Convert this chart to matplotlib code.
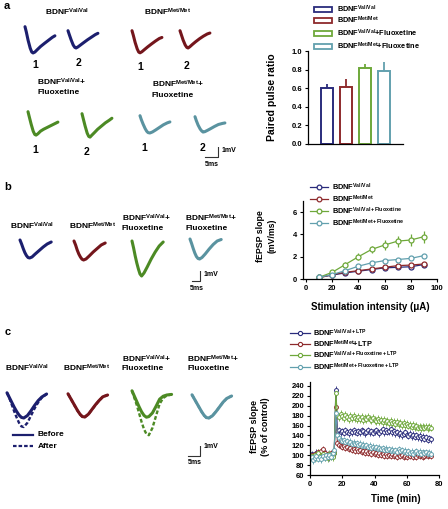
import matplotlib
matplotlib.use('Agg')
import matplotlib.pyplot as plt
from matplotlib.patches import Rectangle
import numpy as np

plt.rcParams['font.family'] = ['Liberation Sans', 'DejaVu Sans']
plt.rcParams['font.weight'] = 'bold'
plt.rcParams['mathtext.fontset'] = 'custom'
plt.rcParams['mathtext.rm'] = 'Liberation Sans:bold'
plt.rcParams['mathtext.bf'] = 'Liberation Sans:bold'
plt.rcParams['mathtext.it'] = 'Liberation Sans:bold'
plt.rcParams['mathtext.default'] = 'rm'

# ---------------- DATA ----------------
groups = ['BDNF$^{Val/Val}$', 'BDNF$^{Met/Met}$',
          'BDNF$^{Val/Val}$+Fluoxetine', 'BDNF$^{Met/Met}$+Fluoxetine']

# panel a: paired pulse ratio
ppr_mean = [0.60, 0.615, 0.815, 0.79]
ppr_sem = [0.05, 0.085, 0.045, 0.09]

# panel b: input-output
stim_ua = [10, 20, 30, 40, 50, 60, 70, 80, 90]
io_valval = [0.15, 0.35, 0.55, 0.70, 0.85, 1.00, 1.05, 1.10, 1.30]
io_metmet = [0.10, 0.40, 0.60, 0.75, 0.90, 1.05, 1.20, 1.25, 1.35]
io_valval_flx = [0.15, 0.60, 1.30, 2.00, 2.65, 3.05, 3.40, 3.50, 3.80]
io_metmet_flx = [0.15, 0.40, 0.75, 1.15, 1.45, 1.65, 1.75, 1.85, 2.10]
io_sem_valval = [0.05, 0.05, 0.08, 0.08, 0.10, 0.10, 0.10, 0.12, 0.12]
io_sem_metmet = [0.05, 0.05, 0.08, 0.08, 0.10, 0.10, 0.12, 0.12, 0.12]
io_sem_valval_flx = [0.08, 0.15, 0.20, 0.30, 0.35, 0.45, 0.50, 0.55, 0.55]
io_sem_metmet_flx = [0.05, 0.08, 0.10, 0.12, 0.12, 0.12, 0.12, 0.15, 0.15]
io_labels = ['BDNF$^{Val/Val}$', 'BDNF$^{Met/Met}$',
             'BDNF$^{Val/Val+Fluoxetine}$', 'BDNF$^{Met/Met+Fluoxetine}$']

# panel c: LTP time course (min 1..75)
ltp_time = list(range(1, 76))
ltp_valval = [102, 96, 100, 105, 98, 101, 97, 104, 99, 103,
              100, 96, 102, 99, 104, 232, 148, 151, 146, 149,
              145, 150, 147, 144, 149, 146, 151, 147, 145, 149,
              146, 150, 148, 144, 147, 150, 146, 149, 145, 148,
              151, 147, 144, 149, 152, 146, 150, 147, 148, 152,
              146, 149, 144, 147, 142, 145, 140, 143, 146, 141,
              139, 143, 138, 141, 137, 140, 136, 139, 134, 137,
              133, 136, 131, 134, 132]
ltp_metmet = [100, 95, 103, 98, 106, 101, 108, 112, 104, 99,
              102, 97, 104, 100, 106, 198, 124, 120, 118, 116,
              119, 114, 117, 112, 115, 111, 113, 109, 112, 108,
              110, 106, 109, 105, 108, 104, 107, 103, 106, 102,
              105, 101, 104, 100, 103, 99, 102, 98, 101, 99,
              102, 98, 100, 97, 101, 98, 100, 96, 99, 97,
              100, 98, 101, 97, 99, 96, 100, 98, 101, 97,
              99, 101, 98, 100, 99]
ltp_valval_flx = [98, 92, 101, 96, 104, 99, 95, 103, 97, 100,
                  94, 102, 98, 96, 105, 225, 182, 178, 184, 179,
                  176, 181, 177, 174, 179, 175, 180, 176, 173, 178,
                  174, 177, 172, 176, 173, 178, 174, 171, 175, 172,
                  170, 174, 169, 172, 168, 171, 167, 170, 166, 169,
                  165, 168, 164, 167, 163, 166, 162, 165, 161, 163,
                  160, 162, 158, 161, 157, 159, 156, 158, 155, 157,
                  156, 158, 155, 157, 156]
ltp_metmet_flx = [96, 90, 94, 99, 93, 97, 92, 98, 95, 100,
                  96, 101, 97, 105, 110, 185, 140, 134, 131, 128,
                  130, 126, 128, 124, 127, 123, 125, 122, 124, 120,
                  123, 119, 121, 118, 120, 116, 119, 115, 117, 114,
                  116, 113, 115, 112, 114, 111, 113, 110, 112, 109,
                  111, 108, 110, 107, 112, 108, 110, 106, 109, 105,
                  108, 104, 107, 103, 106, 108, 104, 107, 103, 106,
                  104, 106, 103, 105, 103]
ltp_sem = [7, 6, 8, 7]
ltp_labels = ['BDNF$^{Val/Val+LTP}$', 'BDNF$^{Met/Met}$+LTP',
              'BDNF$^{Val/Val+Fluoxetine+LTP}$', 'BDNF$^{Met/Met+Fluoxetine+LTP}$']

# example traces (ms, mV)
trace_a_t = [0, 0.5, 1.2, 2.0, 2.6, 3.1, 3.8, 4.8, 6.0, 7.5, 9.0, 10.5, 11.5]
trace_a_vv1 = [0.1, -0.3, -0.95, -1.55, -1.85, -1.92, -1.85, -1.65, -1.42, -1.18, -0.95, -0.72, -0.6]
trace_a_vv2 = [0.1, -0.2, -0.6, -1.0, -1.18, -1.23, -1.15, -1.0, -0.82, -0.6, -0.4, -0.2, -0.1]
trace_a_mm1 = [0.1, -0.25, -0.8, -1.3, -1.55, -1.6, -1.52, -1.35, -1.15, -0.92, -0.7, -0.5, -0.42]
trace_a_mm2 = [0.1, -0.2, -0.62, -1.0, -1.18, -1.23, -1.13, -0.95, -0.75, -0.52, -0.32, -0.15, -0.08]
trace_a_vvf1 = [0.1, -0.3, -0.85, -1.4, -1.65, -1.7, -1.6, -1.4, -1.25, -1.1, -0.95, -0.8, -0.7]
trace_a_vvf2 = [0.1, -0.3, -0.85, -1.4, -1.65, -1.7, -1.55, -1.35, -1.1, -0.85, -0.6, -0.4, -0.25]
trace_a_mmf1 = [0.1, -0.2, -0.55, -0.9, -1.1, -1.2, -1.23, -1.15, -1.0, -0.8, -0.6, -0.45, -0.38]
trace_a_mmf2 = [0.1, -0.2, -0.55, -0.85, -1.0, -1.08, -1.05, -0.95, -0.82, -0.65, -0.5, -0.42, -0.38]

trace_b_t = [0, 1, 2, 3, 4, 5, 6, 7.5, 9.5, 12, 14.5, 17, 19.5]
trace_b_vv = [0.1, -0.3, -0.75, -1.15, -1.45, -1.65, -1.7, -1.6, -1.3, -0.95, -0.6, -0.3, -0.1]
trace_b_mm = [0.1, -0.3, -0.8, -1.2, -1.5, -1.72, -1.8, -1.7, -1.4, -1.0, -0.65, -0.3, -0.1]
trace_b_vvf = [0.1, -0.6, -1.4, -2.1, -2.7, -3.2, -3.4, -3.1, -2.5, -1.7, -1.0, -0.4, 0.0]
trace_b_mmf = [0.1, -0.35, -0.85, -1.3, -1.65, -1.85, -1.9, -1.75, -1.4, -0.9, -0.45, -0.1, 0.05]

trace_c_t = [0, 1, 2, 3, 4, 5, 6, 7, 8.5, 10, 11.5, 13, 14.5, 16.5]
trace_c_vv_before = [0.1, -0.3, -0.7, -1.1, -1.45, -1.75, -1.95, -2.0, -1.8, -1.4, -0.95, -0.55, -0.25, 0.0]
trace_c_vv_after = [0.1, -0.35, -0.9, -1.45, -1.95, -2.4, -2.7, -2.75, -2.4, -1.8, -1.2, -0.7, -0.3, 0.0]
trace_c_mm_before = [0.1, -0.25, -0.6, -0.95, -1.3, -1.6, -1.8, -1.83, -1.6, -1.2, -0.8, -0.45, -0.15, 0.0]
trace_c_mm_after = [0.1, -0.25, -0.62, -0.98, -1.32, -1.62, -1.82, -1.85, -1.62, -1.22, -0.82, -0.45, -0.15, 0.0]
trace_c_vvf_before = [0.1, -0.35, -0.8, -1.25, -1.65, -1.95, -2.1, -2.05, -1.75, -1.2, -0.6, -0.35, -0.25, -0.2]
trace_c_vvf_after = [0.1, -0.5, -1.1, -1.8, -2.5, -3.1, -3.5, -3.6, -3.0, -2.0, -1.0, -0.5, -0.3, -0.2]
trace_c_mmf_before = [0.1, -0.25, -0.6, -0.95, -1.3, -1.6, -1.8, -1.83, -1.65, -1.3, -0.9, -0.5, -0.2, 0.0]
trace_c_mmf_after = [0.1, -0.25, -0.62, -0.97, -1.32, -1.62, -1.82, -1.86, -1.66, -1.3, -0.9, -0.5, -0.2, 0.0]

scale_ms = 5
scale_mv = 1

# ---------------- STYLE ----------------
C_BLUE, C_RED, C_GREEN, C_TEAL = '#2a2c7c', '#8e2a2c', '#6ea83a', '#62a0ae'
T_BLUE, T_RED, T_GREEN, T_TEAL = '#1c1f6e', '#74161c', '#4c8a24', '#5a93a0'
series_colors = [C_BLUE, C_RED, C_GREEN, C_TEAL]

W, H = 448, 509
fig = plt.figure(figsize=(W / 100, H / 100), dpi=100)
ov = fig.add_axes([0, 0, 1, 1])
ov.set_xlim(0, W)
ov.set_ylim(H, 0)
ov.axis('off')


def px_axes(l, t, r, b):
    ax = fig.add_axes([l / W, 1 - b / H, (r - l) / W, (b - t) / H])
    ax.patch.set_visible(False)
    return ax


def trace_axes(x0, y0, sx, sy):
    # axes whose data origin (0 ms, 0 mV) sits at pixel (x0, y0)
    l, r, t, b = x0 - 6, x0 + 50, y0 - 10, y0 + 60
    ax = px_axes(l, t, r, b)
    ax.set_xlim((l - x0) / sx, (r - x0) / sx)
    ax.set_ylim(-(b - y0) / sy, (y0 - t) / sy)
    ax.axis('off')
    return ax


def trace(x0, y0, sx, sy, t, v, color, ls='-', lw=2.2):
    ax = trace_axes(x0, y0, sx, sy)
    if ls == '-':
        ax.plot(t, v, color=color, lw=lw, solid_capstyle='round', solid_joinstyle='round')
    else:
        ax.plot(t, v, color=color, lw=lw, ls=(0, (1.6, 0.9)))
    return ax


def scalebar(x0, y0, sx, sy):
    ax = trace_axes(x0, y0, sx, sy)
    ax.plot([0, scale_ms, scale_ms], [0, 0, scale_mv], color='#333333', lw=0.8)


def txt(x, y, s, size=6, ha='left', va='center', target=None, **kw):
    (target or ov).text(x, y, s, fontsize=size, ha=ha, va=va, fontweight='bold', **kw)


def style_axis(ax):
    for s in ['top', 'right']:
        ax.spines[s].set_visible(False)
    for s in ['left', 'bottom']:
        ax.spines[s].set_linewidth(0.9)
    ax.tick_params(direction='out', length=2.5, width=0.8, labelsize=5.5, pad=1.5)
    for lab in ax.get_xticklabels() + ax.get_yticklabels():
        lab.set_fontweight('bold')


# ---------------- PANEL A ----------------
txt(4, 6, 'a', size=8)
sa = (2.6, 13)
txt(67, 12, 'BDNF$^{Val/Val}$', ha='center')
txt(168, 12, 'BDNF$^{Met/Met}$', ha='center')
txt(37, 82, 'BDNF$^{Val/Val}$+')
txt(37, 92, 'Fluoxetine')
txt(152, 84, 'BDNF$^{Met/Met}$+')
txt(152, 95, 'Fluoxetine')
trace(25, 28, *sa, trace_a_t, trace_a_vv1, T_BLUE)
trace(68, 32, *sa, trace_a_t, trace_a_vv2, T_BLUE)
trace(132, 32, *sa, trace_a_t, trace_a_mm1, T_RED)
trace(180, 32, *sa, trace_a_t, trace_a_mm2, T_RED)
trace(28, 113, *sa, trace_a_t, trace_a_vvf1, T_GREEN)
trace(82, 115, *sa, trace_a_t, trace_a_vvf2, T_GREEN)
trace(140, 117, *sa, trace_a_t, trace_a_mmf1, T_TEAL)
trace(195, 118, *sa, trace_a_t, trace_a_mmf2, T_TEAL)
for x, y, s in [(35, 65, '1'), (78, 63, '2'), (140, 67, '1'), (186, 66, '2'),
                (35, 150, '1'), (87, 152, '2'), (144, 148, '1'), (202, 148, '2')]:
    txt(x, y, s, size=7.5, ha='center')
scalebar(205, 157, *sa)
txt(222, 151, '1mV', size=5)
txt(212, 164, '5ms', size=5, ha='center')

# bar chart
axA = px_axes(308, 51, 403, 144)
pos = np.arange(1, len(ppr_mean) + 1)
axA.bar(pos, ppr_mean, width=0.62, color='white', edgecolor=series_colors, linewidth=1.4, zorder=2)
for p, m, e, c in zip(pos, ppr_mean, ppr_sem, series_colors):
    axA.errorbar([p], [m], yerr=[[0], [e]], fmt='none', ecolor=c, elinewidth=1.3, capsize=0, zorder=1)
axA.set_xlim(0, 5)
axA.set_ylim(0, 1.0)
axA.set_yticks([0, 0.2, 0.4, 0.6, 0.8, 1.0])
axA.set_yticklabels(['0.0', '0.2', '0.4', '0.6', '0.8', '1.0'])
axA.set_xticks([])
style_axis(axA)
axA.set_ylabel('Paired pulse ratio', fontsize=7.5, fontweight='bold')
axA.yaxis.set_label_coords(-0.33, 0.5)

# ---------------- PANEL B ----------------
txt(4, 187, 'b', size=8)
sb = (1.6, 10)
txt(32, 226, 'BDNF$^{Val/Val}$', ha='center')
txt(93, 226, 'BDNF$^{Met/Met}$', ha='center')
txt(122, 218, 'BDNF$^{Val/Val}$+')
txt(122, 228, 'Fluoxetine')
txt(185, 218, 'BDNF$^{Met/Met}$+')
txt(185, 228, 'Fluoxetine')
trace(20, 241, *sb, trace_b_t, trace_b_vv, T_BLUE)
trace(74, 242, *sb, trace_b_t, trace_b_mm, T_RED)
trace(132, 242, *sb, trace_b_t, trace_b_vvf, T_GREEN)
trace(190, 240, *sb, trace_b_t, trace_b_mmf, T_TEAL)
scalebar(192, 281, *sb)
txt(204, 274, '1mV', size=5)
txt(197, 289, '5ms', size=5, ha='center')

axB = px_axes(303, 201, 437, 279)
for vals, sems, c in zip([io_valval, io_metmet, io_valval_flx, io_metmet_flx],
                         [io_sem_valval, io_sem_metmet, io_sem_valval_flx, io_sem_metmet_flx],
                         series_colors):
    axB.errorbar(stim_ua, vals, yerr=sems, color=c, lw=0.9, elinewidth=0.9, capsize=0,
                 marker='o', ms=3.6, mfc='white', mec=c, mew=0.9)
axB.set_xlim(-2.3, 100)
axB.set_ylim(0, 7)
axB.set_xticks([0, 20, 40, 60, 80, 100])
axB.set_yticks([0, 2, 4, 6])
style_axis(axB)
axB.set_ylabel('fEPSP slope\n(mV/ms)', fontsize=6.3, fontweight='bold', linespacing=1.3)
axB.yaxis.set_label_coords(-0.2, 0.55)
axB.set_xlabel('Stimulation intensity (\u03bcA)', fontsize=7, fontweight='bold')
axB.xaxis.set_label_coords(0.5, -0.29)

# ---------------- PANEL C ----------------
txt(5, 332, 'c', size=8)
sc = (2.4, 12)
txt(27, 368, 'BDNF$^{Val/Val}$', ha='center')
txt(87, 368, 'BDNF$^{Met/Met}$', ha='center')
txt(122, 359, 'BDNF$^{Val/Val}$+')
txt(122, 369, 'Fluoxetine')
txt(187, 359, 'BDNF$^{Met/Met}$+')
txt(187, 369, 'Fluoxetine')
trace(7, 394, *sc, trace_c_t, trace_c_vv_before, T_BLUE)
trace(7, 394, *sc, trace_c_t, trace_c_vv_after, T_BLUE, ls='--', lw=1.7)
trace(68, 395, *sc, trace_c_t, trace_c_mm_after, T_RED, ls='--', lw=1.7)
trace(68, 395, *sc, trace_c_t, trace_c_mm_before, T_RED)
trace(132, 392, *sc, trace_c_t, trace_c_vvf_before, T_GREEN)
trace(132, 392, *sc, trace_c_t, trace_c_vvf_after, T_GREEN, ls='--', lw=1.7)
trace(192, 396, *sc, trace_c_t, trace_c_mmf_after, T_TEAL, ls='--', lw=1.7)
trace(192, 396, *sc, trace_c_t, trace_c_mmf_before, T_TEAL)
ov.plot([13, 33], [435, 435], color=T_BLUE, lw=1.6)
ov.plot([13, 33], [446, 446], color=T_BLUE, lw=1.6, ls=(0, (1.6, 0.9)))
txt(38, 435, 'Before', size=6)
txt(38, 446, 'After', size=6)
scalebar(188, 456, *sc)
txt(204, 447, '1mV', size=5)
txt(195, 463, '5ms', size=5, ha='center')

axC = px_axes(310, 382, 439, 475)
for vals, sem, c in zip([ltp_valval, ltp_metmet, ltp_valval_flx, ltp_metmet_flx], ltp_sem, series_colors):
    axC.errorbar(ltp_time, vals, yerr=sem, color=c, lw=0.8, elinewidth=0.6, capsize=0,
                 marker='o', ms=2.8, mfc='white', mec=c, mew=0.7)
axC.set_xlim(0, 80)
axC.set_ylim(60, 248)
axC.set_xticks([0, 20, 40, 60, 80])
axC.set_yticks(list(range(60, 241, 20)))
style_axis(axC)
axC.set_ylabel('fEPSP slope\n(% of control)', fontsize=6.5, fontweight='bold', linespacing=1.3)
axC.yaxis.set_label_coords(-0.31, 0.52)
axC.set_xlabel('Time (min)', fontsize=7, fontweight='bold')
axC.xaxis.set_label_coords(0.667, -0.2)

# ---------------- LEGENDS (top layer) ----------------
top = fig.add_axes([0, 0, 1, 1], zorder=10)
top.set_xlim(0, W)
top.set_ylim(H, 0)
top.axis('off')
for y, lab, c in zip([9, 20, 33, 46], groups, series_colors):
    top.add_patch(Rectangle((314, y - 2.5), 18, 5, facecolor='white', edgecolor=c, lw=1.3))
    txt(337, y, lab, size=5.3, target=top)
for y, lab, c in zip([187, 199, 211, 223], io_labels, series_colors):
    top.plot([310, 328], [y, y], color=c, lw=0.9)
    top.plot([319], [y], marker='o', ms=3.4, mfc='white', mec=c, mew=0.9)
    txt(332, y, lab, size=5.3, target=top)
for y, lab, c in zip([333, 344, 355, 367], ltp_labels, series_colors):
    top.plot([290, 310], [y, y], color=c, lw=0.9)
    top.plot([300], [y], marker='o', ms=3.0, mfc='white', mec=c, mew=0.8)
    txt(313, y, lab, size=5.3, target=top)

fig.savefig('out.png', dpi=100)
